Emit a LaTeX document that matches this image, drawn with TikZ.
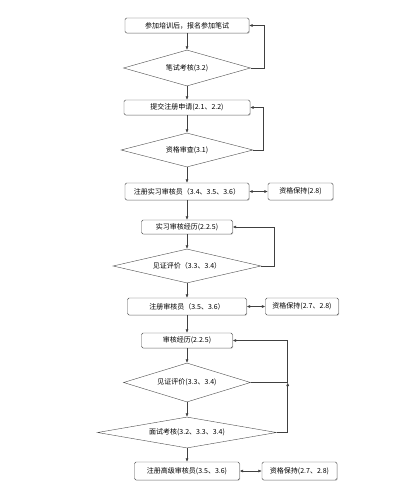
\documentclass[tikz,border=0pt]{standalone}
\usepackage{fontspec}
\setmainfont{Noto Sans CJK SC}
\usetikzlibrary{shapes.geometric,arrows.meta,shadows}

\begin{document}
\begin{tikzpicture}[x=1pt,y=-1pt,
            every node/.style={font=\fontsize{7}{8}\selectfont,inner sep=0pt},
            procbox/.style n args={2}{draw=black!70,rounded corners=1.5pt,fill=white,
                minimum width=#1,minimum height=#2,
                drop shadow={shadow xshift=0.7pt,shadow yshift=-0.7pt,fill=black!45}},
            checkbox/.style n args={2}{diamond,draw=black!70,aspect=5,
                minimum width=#1,minimum height=#2},
            arr/.style={draw=black!75,line width=0.5pt,-{Latex[length=3.5pt,width=3pt]}},
            arrs/.style={draw=black!75,line width=0.5pt,{Latex[length=3.5pt,width=3pt]}-{Latex[length=3.5pt,width=3pt]}},
            ]
            \useasboundingbox (0,0) rectangle (419,492);

            % main column
            \node[procbox={124}{15}] (train) at (187,25.5) {参加培训后，报名参加笔试};
            \node[checkbox={127}{36}] (written) at (187,68) {笔试考核(3.2)};
            \node[procbox={126}{15}] (apply) at (187,107.5) {提交注册申请(2.1、2.2)};
            \node[checkbox={132}{34}] (qual) at (187,150) {资格审查(3.1)};
            \node[procbox={124}{17}] (intern) at (187,191.5) {注册实习审核员（3.4、3.5、3.6）};
            \node[procbox={91}{14}] (internexp) at (187,227) {实习审核经历(2.2.5)};
            \node[checkbox={148}{34}] (witnessA) at (187,266) {见证评价（3.3、3.4）};
            \node[procbox={119}{17}] (auditor) at (187,306.5) {注册审核员（3.5、3.6）};
            \node[procbox={91}{15}] (auditexp) at (187,340.5) {审核经历(2.2.5)};
            \node[checkbox={127}{39}] (witnessB) at (187,382.5) {见证评价(3.3、3.4)};
            \node[checkbox={179}{31}] (interview) at (187,432.5) {面试考核(3.2、3.3、3.4)};
            \node[procbox={105}{18}] (senior) at (187,471) {注册高级审核员(3.5、3.6)};

            % keep-up boxes
            \node[procbox={65}{17}] (keepA) at (300.5,191.5) {资格保持(2.8)};
            \node[procbox={73}{17}] (keepB) at (302,306.5) {资格保持(2.7、2.8)};
            \node[procbox={75}{18}] (keepC) at (299.5,471) {资格保持(2.7、2.8)};

            \draw[arr] (train) -- (written);
            \draw[arr] (written) -- (apply);
            \draw[arr] (apply) -- (qual);
            \draw[arr] (qual) -- (intern);
            \draw[arr] (intern) -- (internexp);
            \draw[arr] (internexp) -- (witnessA);
            \draw[arr] (witnessA) -- (auditor);
            \draw[arr] (auditor) -- (auditexp);
            \draw[arr] (auditexp) -- (witnessB);
            \draw[arr] (witnessB) -- (interview);
            \draw[arr] (interview) -- (senior);

            % loops back
            \draw[arr] (written.east) -- ++(14,0) |- (train.east);
            \draw[arr] (qual.east) -- ++(10,0) |- (apply.east);
            \draw[arr] (witnessA.east) -- ++(13,0) |- (internexp.east);
            \draw[arr] (witnessB.east) -- ++(37,0) coordinate (join) |- (auditexp.east);
            \draw[arr] (interview.east) -| (join);

            \draw[arrs] (intern) -- (keepA);
            \draw[arrs] (auditor) -- (keepB);
            \draw[arrs] (senior) -- (keepC);
        \end{tikzpicture}
\end{document}
